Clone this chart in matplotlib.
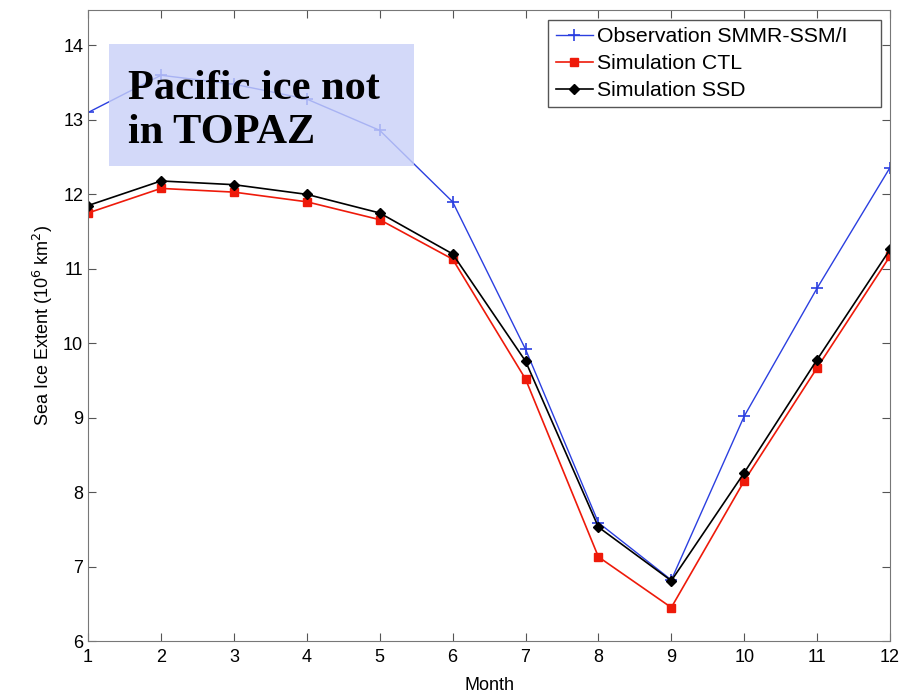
import matplotlib.pyplot as plt
from matplotlib.patches import Rectangle
import numpy as np

plt.rcParams['font.family'] = ['Liberation Sans', 'DejaVu Sans']

months = np.arange(1, 13)
obs = [13.10, 13.60, 13.48, 13.28, 12.86, 11.90, 9.92, 7.59, 6.82, 9.02, 10.74, 12.36]
ctl = [11.75, 12.08, 12.03, 11.90, 11.66, 11.13, 9.52, 7.13, 6.45, 8.15, 9.67, 11.17]
ssd = [11.85, 12.18, 12.13, 12.00, 11.75, 11.20, 9.76, 7.53, 6.81, 8.26, 9.78, 11.26]

fig = plt.figure(figsize=(8.99, 6.96), dpi=100)
ax = fig.add_axes([0.098, 0.079, 0.892, 0.907])

ax.plot(months, obs, color='#2b3fe0', lw=1.0, marker='+', ms=8, mew=1.2,
        label='Observation SMMR-SSM/I')
ax.plot(months, ctl, color='#ee1a0a', lw=1.2, marker='s', ms=6,
        label='Simulation CTL')
ax.plot(months, ssd, color='black', lw=1.2, marker='D', ms=5,
        label='Simulation SSD')

ax.set_xlim(1, 12)
ax.set_ylim(6, 14.48)
ax.set_xticks(months)
ax.set_yticks(range(6, 15))
ax.tick_params(direction='in', top=True, right=True, labelsize=13, length=6,
               color='#555555')
ax.tick_params(axis='x', pad=6)
for s in ax.spines.values():
    s.set_color('#777777')
ax.set_xlabel('Month', fontsize=13, labelpad=8)
ax.set_ylabel('Sea Ice Extent (10$^{6}$ km$^{2}$)', fontsize=13, labelpad=6)

# matlab-style legend: wider box than its text
leg = ax.legend(loc='upper left', bbox_to_anchor=(0.5736, 0.5, 0.4152, 0.484),
                mode='expand', borderaxespad=0, fontsize=15.3, fancybox=False,
                framealpha=1, edgecolor='#555555', handlelength=1.75,
                handletextpad=0.2, labelspacing=0.37, borderpad=0.35)

# translucent label box over the top-left corner
ax.add_patch(Rectangle((0.026, 0.753), 0.380, 0.193, transform=ax.transAxes,
                       fc='#c8d0f8', ec='none', alpha=0.8, zorder=4))
ax.text(0.05, 0.905, 'Pacific ice not\nin TOPAZ', transform=ax.transAxes,
        ha='left', va='top', fontsize=30.5, fontweight='bold',
        family='Liberation Serif', linespacing=1.2, zorder=5)

fig.savefig('out.png', dpi=100)
